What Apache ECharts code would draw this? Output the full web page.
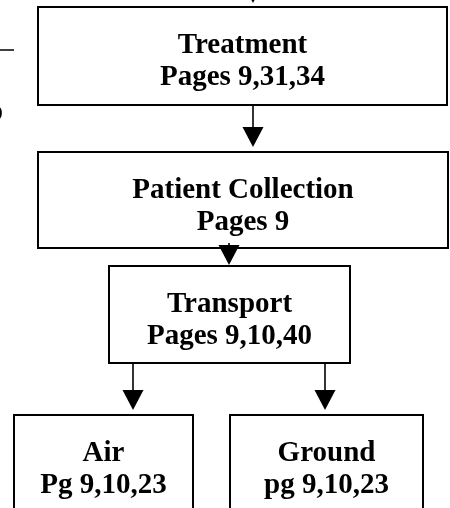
<!DOCTYPE html>
<html><head><meta charset="utf-8">
<script src="https://cdn.jsdelivr.net/npm/echarts@6/dist/echarts.min.js"></script>
<style>html,body{margin:0;padding:0;background:#fff}#c{width:450px;height:508px}</style>
</head><body><div id="c"></div><script>
// ---- content ----
const nodeTitles = ['Treatment', 'Patient Collection', 'Transport', 'Air', 'Ground'];
const nodePages  = ['Pages 9,31,34', 'Pages 9', 'Pages 9,10,40', 'Pg 9,10,23', 'pg 9,10,23'];
const edges = [[-1, 0], [0, 1], [1, 2], [2, 3], [2, 4]];
const strayTexts = ['o'];

// ---- layout (page coordinate space of the hidden axes) ----
const boxLayout = [
  [38, 7, 447, 105],
  [38, 152, 448, 248],
  [109, 266, 350, 363],
  [14, 415, 193, 540],
  [230, 415, 423, 540]
];
// [x, yStart, yTip] for each edge
const arrowLayout = [
  [253, -30, 3],
  [253, 105, 147],
  [229, 243, 265],
  [133, 363, 410],
  [325, 363, 410]
];
const strayLines = [[0, 50, 14, 50]];
const strayTextPos = [[3, 113]];

const FONT = { fontFamily: '"Liberation Serif", "DejaVu Serif", serif', fontWeight: 'bold', fontSize: 29 };

const chart = echarts.init(document.getElementById('c'), null, { renderer: 'canvas' });
chart.setOption({
  backgroundColor: '#fff',
  animation: false,
  grid: { left: 0, right: 0, top: 0, bottom: 0 },
  xAxis: { type: 'value', min: 0, max: 450, show: false },
  yAxis: { type: 'value', min: 0, max: 508, inverse: true, show: false },
  series: [
    {
      type: 'custom',
      clip: false,
      data: nodeTitles.map((t, i) => [...boxLayout[i], i]),
      renderItem: function (params, api) {
        const p0 = api.coord([api.value(0), api.value(1)]);
        const p1 = api.coord([api.value(2), api.value(3)]);
        const i = api.value(4);
        const cx = (p0[0] + p1[0]) / 2;
        return {
          type: 'group',
          children: [
            { type: 'rect', shape: { x: p0[0], y: p0[1], width: p1[0] - p0[0], height: p1[1] - p0[1] },
              style: { fill: '#fff', stroke: '#000', lineWidth: 2 } },
            { type: 'text', style: Object.assign({ text: nodeTitles[i], x: cx, y: p0[1] + 39, align: 'center', verticalAlign: 'middle', fill: '#000' }, FONT) },
            { type: 'text', style: Object.assign({ text: nodePages[i], x: cx, y: p0[1] + 71, align: 'center', verticalAlign: 'middle', fill: '#000' }, FONT) }
          ]
        };
      }
    },
    {
      type: 'custom',
      clip: false,
      z: 5,
      data: edges.map((e, i) => [...arrowLayout[i]]),
      renderItem: function (params, api) {
        const a = api.coord([api.value(0), api.value(1)]);
        const tip = api.coord([api.value(0), api.value(2)]);
        const hh = 20, hw = 10.5;
        return {
          type: 'group',
          children: [
            { type: 'line', shape: { x1: a[0], y1: a[1], x2: tip[0], y2: tip[1] - hh + 1 },
              style: { stroke: '#000', lineWidth: 1.6 } },
            { type: 'polygon', shape: { points: [[tip[0] - hw, tip[1] - hh], [tip[0] + hw, tip[1] - hh], [tip[0], tip[1]]] },
              style: { fill: '#000' } }
          ]
        };
      }
    },
    {
      type: 'custom',
      clip: false,
      data: strayLines,
      renderItem: function (params, api) {
        const a = api.coord([api.value(0), api.value(1)]);
        const b = api.coord([api.value(2), api.value(3)]);
        return { type: 'line', shape: { x1: a[0], y1: a[1], x2: b[0], y2: b[1] }, style: { stroke: '#000', lineWidth: 1.5 } };
      }
    },
    {
      type: 'custom',
      clip: false,
      data: strayTexts.map((t, i) => [...strayTextPos[i], i]),
      renderItem: function (params, api) {
        const a = api.coord([api.value(0), api.value(1)]);
        return { type: 'text', style: Object.assign({ text: strayTexts[api.value(2)], x: a[0], y: a[1], align: 'right', verticalAlign: 'middle', fill: '#000' }, FONT) };
      }
    }
  ]
});
</script></body></html>
